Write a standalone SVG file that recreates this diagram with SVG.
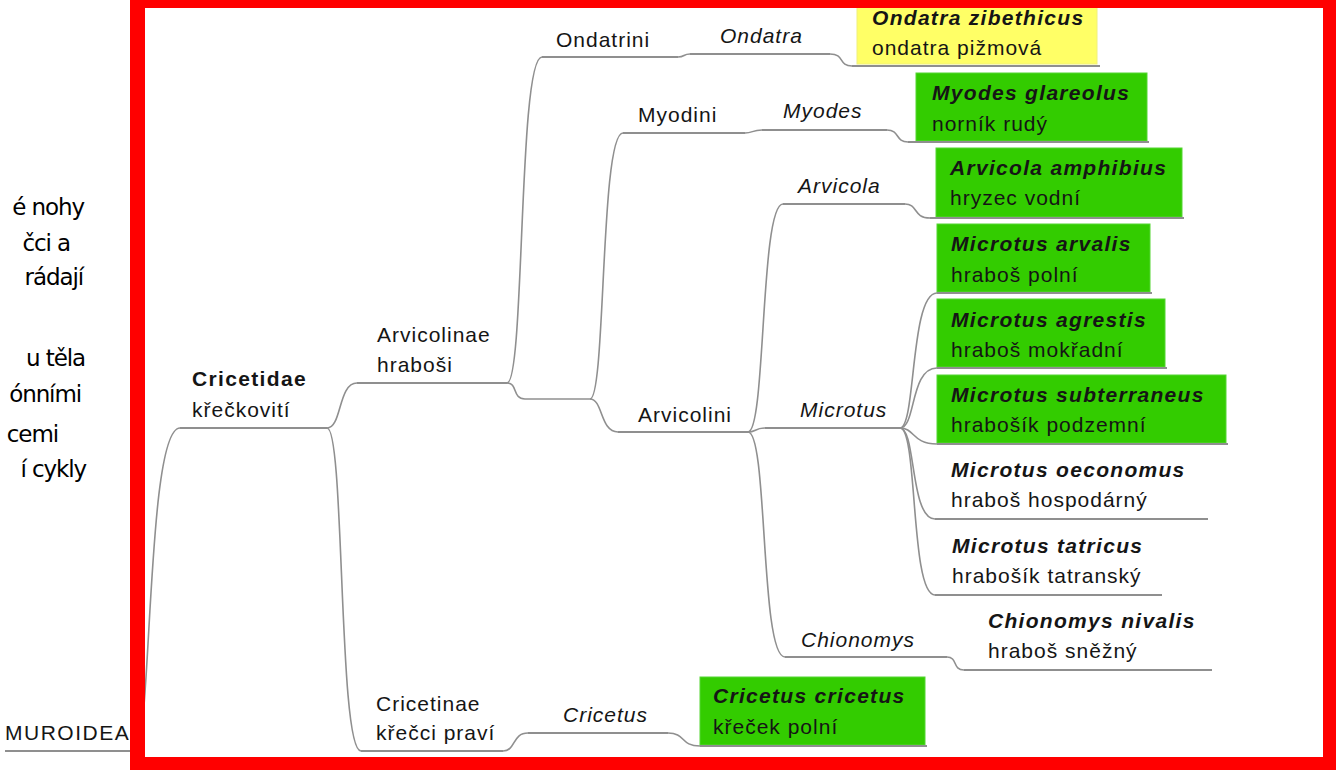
<svg xmlns="http://www.w3.org/2000/svg" width="1336" height="770" viewBox="0 0 1336 770">
<style>
.c{fill:none;stroke:#8f8f8f;stroke-width:1.6}
.u{fill:none;stroke:#8f8f8f;stroke-width:1.8}
.t{font-family:"Liberation Sans",Arial,sans-serif;font-size:21px;fill:#151515;letter-spacing:1px}
.i{font-style:italic}
.bd{font-weight:bold;letter-spacing:1.35px}
.bi{font-weight:bold;font-style:italic;letter-spacing:1.3px}
.g{fill:#33cc00;stroke:#55d633;stroke-width:1}
.y{fill:#ffff66;stroke:#f0f07a;stroke-width:1}
.side{font-family:"Comic Sans MS","DejaVu Sans",sans-serif;font-size:23px;letter-spacing:-1.1px;fill:#000;text-anchor:end}
</style>
<rect width="1336" height="770" fill="#fff"/>
<g id="side-text">
<text class="side" x="84" y="215">é nohy</text>
<text class="side" x="70" y="251">čci a</text>
<text class="side" x="83" y="285">rádají</text>
<text class="side" x="85" y="366">u těla</text>
<text class="side" x="81" y="402">ónními</text>
<text class="side" x="58" y="442">cemi</text>
<text class="side" x="86" y="477">í cykly</text>
</g>
<g id="connectors">
<path class="c" d="M135,751 C152,751 146,428 180,428"/>
<path class="c" d="M327,428 C342,428 338,383 357,383"/>
<path class="c" d="M327,428 C345,428 338,751 361,751"/>
<path class="c" d="M503,751 C516,751 512,733 528,733"/>
<path class="c" d="M668,733 C686,733 680,746 700,746"/>
<path class="c" d="M507,383 C518,383 512,399 525,399"/>
<path class="c" d="M507,383 C525,383 518,57 542,57"/>
<path class="c" d="M678,57 C685,57 683,54 690,54"/>
<path class="c" d="M830,54 C845,54 838,66 852,66"/>
<path class="c" d="M590,399 C606,399 600,133 623,133"/>
<path class="c" d="M590,399 C603,399 600,432 618,432"/>
<path class="c" d="M745,133 C753,133 752,130 762,130"/>
<path class="c" d="M887,130 C900,130 895,142 908,142"/>
<path class="c" d="M748,432 C766,432 760,204 783,204"/>
<path class="c" d="M905,204 C918,204 913,218 930,218"/>
<path class="c" d="M748,432 C756,432 755,428 765,428"/>
<path class="c" d="M748,432 C768,432 760,657 785,657"/>
<path class="c" d="M947,657 C958,657 952,670 964,670"/>
<path class="c" d="M900,428 C916,428 910,293 937,293"/>
<path class="c" d="M900,428 C916,428 910,368 937,368"/>
<path class="c" d="M900,428 C915,428 912,444 937,444"/>
<path class="c" d="M900,428 C916,428 910,519 935,519"/>
<path class="c" d="M900,428 C918,428 910,595 935,595"/>
<line class="c" x1="525" y1="399" x2="590" y2="399"/>
</g>
<g id="muroidea"><text class="t" x="5" y="740" style="letter-spacing:1.5px">MUROIDEA</text><line class="u" x1="5" y1="751" x2="136" y2="751"/></g>
<g id="cricetidae"><text class="t bd" x="192" y="386">Cricetidae</text><text class="t" x="192" y="417">křečkovití</text><line class="u" x1="180" y1="428" x2="327" y2="428"/></g>
<g id="arvicolinae"><text class="t" x="377" y="342">Arvicolinae</text><text class="t" x="377" y="372">hraboši</text><line class="u" x1="357" y1="383" x2="507" y2="383"/></g>
<g id="cricetinae"><text class="t" x="376" y="711">Cricetinae</text><text class="t" x="376" y="740">křečci praví</text><line class="u" x1="361" y1="751" x2="503" y2="751"/></g>
<g id="cricetus"><text class="t i" x="563" y="722">Cricetus</text><line class="u" x1="528" y1="733" x2="668" y2="733"/></g>
<g id="cricetus-cricetus"><rect class="g" x="700" y="677" width="225" height="68"/><text class="t bi" x="713" y="703">Cricetus cricetus</text><text class="t" x="713" y="734">křeček polní</text><line class="u" x1="700" y1="746" x2="927" y2="746"/></g>
<g id="ondatrini"><text class="t" x="556" y="47">Ondatrini</text><line class="u" x1="542" y1="57" x2="678" y2="57"/></g>
<g id="ondatra"><text class="t i" x="720" y="43">Ondatra</text><line class="u" x1="690" y1="54" x2="830" y2="54"/></g>
<g id="ondatra-zibethicus"><rect class="y" x="857" y="0" width="240" height="64"/><text class="t bi" x="872" y="25">Ondatra zibethicus</text><text class="t" x="872" y="55">ondatra pižmová</text><line class="u" x1="852" y1="66" x2="1100" y2="66"/></g>
<g id="myodini"><text class="t" x="638" y="122">Myodini</text><line class="u" x1="623" y1="133" x2="745" y2="133"/></g>
<g id="myodes"><text class="t i" x="783" y="118">Myodes</text><line class="u" x1="762" y1="130" x2="887" y2="130"/></g>
<g id="myodes-glareolus"><rect class="g" x="916" y="73" width="231" height="68"/><text class="t bi" x="932" y="100">Myodes glareolus</text><text class="t" x="932" y="131">norník rudý</text><line class="u" x1="908" y1="142" x2="1149" y2="142"/></g>
<g id="arvicolini"><text class="t" x="638" y="422">Arvicolini</text><line class="u" x1="618" y1="432" x2="748" y2="432"/></g>
<g id="arvicola"><text class="t i" x="798" y="193">Arvicola</text><line class="u" x1="783" y1="204" x2="905" y2="204"/></g>
<g id="arvicola-amphibius"><rect class="g" x="936" y="148" width="246" height="69"/><text class="t bi" x="950" y="175">Arvicola amphibius</text><text class="t" x="950" y="205">hryzec vodní</text><line class="u" x1="930" y1="218" x2="1184" y2="218"/></g>
<g id="microtus"><text class="t i" x="800" y="417">Microtus</text><line class="u" x1="765" y1="428" x2="900" y2="428"/></g>
<g id="microtus-arvalis"><rect class="g" x="937" y="224" width="213" height="68"/><text class="t bi" x="951" y="251">Microtus arvalis</text><text class="t" x="951" y="282">hraboš polní</text><line class="u" x1="937" y1="293" x2="1152" y2="293"/></g>
<g id="microtus-agrestis"><rect class="g" x="937" y="299" width="228" height="68"/><text class="t bi" x="951" y="327">Microtus agrestis</text><text class="t" x="951" y="357">hraboš mokřadní</text><line class="u" x1="937" y1="368" x2="1167" y2="368"/></g>
<g id="microtus-subterraneus"><rect class="g" x="937" y="375" width="289" height="68"/><text class="t bi" x="951" y="402">Microtus subterraneus</text><text class="t" x="951" y="432">hrabošík podzemní</text><line class="u" x1="937" y1="444" x2="1228" y2="444"/></g>
<g id="microtus-oeconomus"><text class="t bi" x="951" y="477">Microtus oeconomus</text><text class="t" x="951" y="507">hraboš hospodárný</text><line class="u" x1="935" y1="519" x2="1208" y2="519"/></g>
<g id="microtus-tatricus"><text class="t bi" x="952" y="553">Microtus tatricus</text><text class="t" x="952" y="583">hrabošík tatranský</text><line class="u" x1="935" y1="595" x2="1162" y2="595"/></g>
<g id="chionomys"><text class="t i" x="801" y="647">Chionomys</text><line class="u" x1="785" y1="657" x2="947" y2="657"/></g>
<g id="chionomys-nivalis"><text class="t bi" x="988" y="628">Chionomys nivalis</text><text class="t" x="988" y="658">hraboš sněžný</text><line class="u" x1="964" y1="670" x2="1212" y2="670"/></g>
<path id="frame" fill="#ff0000" fill-rule="evenodd" d="M130,0 H1336 V770 H130 Z M145,8 V757 H1323 V8 Z"/>
</svg>
